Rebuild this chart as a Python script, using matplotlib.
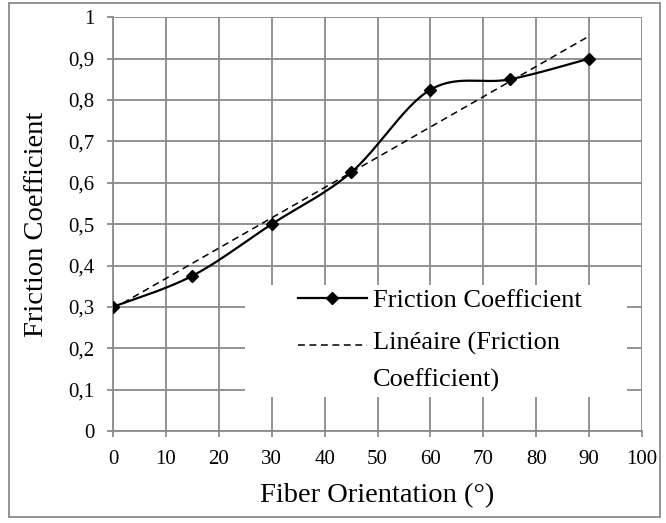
import numpy as np
import matplotlib
matplotlib.use("Agg")
import matplotlib.pyplot as plt
from matplotlib.patches import Rectangle
from matplotlib.lines import Line2D
from matplotlib.legend_handler import HandlerLine2D

plt.rcParams['font.family'] = ['Liberation Serif', 'DejaVu Serif']

orientation = [0, 15, 30, 45, 60, 75, 90]
friction = [0.3, 0.375, 0.5, 0.625, 0.825, 0.85, 0.9]
x_ticks = [0, 10, 20, 30, 40, 50, 60, 70, 80, 90, 100]
y_ticks = [0, 0.1, 0.2, 0.3, 0.4, 0.5, 0.6, 0.7, 0.8, 0.9, 1.0]
y_labels = ['0', '0,1', '0,2', '0,3', '0,4', '0,5', '0,6', '0,7', '0,8', '0,9', '1']


def smooth_curve(xs, ys, n=40):
    """Bezier smoothing of a polyline (control points from neighbouring slopes)."""
    P = np.column_stack([xs, ys]).astype(float)
    out = []
    for i in range(len(P) - 1):
        p0 = P[i - 1] if i > 0 else P[i]
        p1 = P[i]
        p2 = P[i + 1]
        p3 = P[i + 2] if i + 2 < len(P) else P[i + 1]
        c1 = p1 + (p2 - p0) / 6.0
        c2 = p2 - (p3 - p1) / 6.0
        t = np.linspace(0, 1, n)[:, None]
        seg = ((1 - t) ** 3) * p1 + 3 * ((1 - t) ** 2) * t * c1 + 3 * (1 - t) * t ** 2 * c2 + t ** 3 * p2
        out.append(seg if i == 0 else seg[1:])
    s = np.vstack(out)
    return s[:, 0], s[:, 1]


class HandlerFirstLine(HandlerLine2D):
    """Line handle raised to sit beside the first line of a two-line label."""

    def __init__(self, dy, **kw):
        super().__init__(**kw)
        self.dy = dy

    def create_artists(self, legend, orig_handle, xdescent, ydescent, width,
                       height, fontsize, trans):
        artists = super().create_artists(legend, orig_handle, xdescent, ydescent,
                                         width, height, fontsize, trans)
        for a in artists:
            a.set_ydata(np.asarray(a.get_ydata()) + self.dy)
        return artists


W, H = 666, 523
fig = plt.figure(figsize=(W / 100, H / 100), dpi=100)
ax_l, ax_r, ax_t, ax_b = 113, 642, 17.3, 431
ax = fig.add_axes([ax_l / W, 1 - ax_b / H, (ax_r - ax_l) / W, (ax_b - ax_t) / H])


def px_to_axes(px, py):
    """Figure pixel position (from top-left) to axes fraction."""
    return (px - ax_l) / (ax_r - ax_l), 1 - (py - ax_t) / (ax_b - ax_t)


grid_col = '#8a8a8a'
ax.set_xlim(0, 100)
ax.set_ylim(0, 1)
ax.set_xticks(x_ticks)
ax.set_yticks(y_ticks)
ax.set_xticklabels([str(v) for v in x_ticks])
ax.set_yticklabels(y_labels)
ax.grid(True, color=grid_col, linewidth=1.3)
ax.set_axisbelow(True)
for side in ['top', 'right']:
    ax.spines[side].set_visible(False)
for side in ['left', 'bottom']:
    ax.spines[side].set_color(grid_col)
    ax.spines[side].set_linewidth(1.3)
ax.tick_params(axis='both', direction='out', length=4.5, width=1.3, color=grid_col,
               labelsize=15)
ax.tick_params(axis='x', pad=9)
ax.tick_params(axis='y', pad=9)

dash = (0, (4.5, 3.0))

# data series, smoothed
sx, sy = smooth_curve(orientation, friction)
ax.plot(sx, sy, color='black', linewidth=1.6, zorder=4)
ax.plot(orientation, friction, linestyle='none', marker='D', markersize=6.5,
        color='black', zorder=5)

# linear trend line
slope, intercept = np.polyfit(orientation, friction, 1)
tx = np.array([orientation[0], orientation[-1]])
ax.plot(tx, slope * tx + intercept, color='black', linewidth=1.1,
        linestyle=dash, zorder=3)

ax.set_xlabel('Fiber Orientation (°)', fontsize=20.5, labelpad=10)
ax.set_ylabel('Friction Coefficient', fontsize=20.5, labelpad=14)

# white legend area hiding the grid
bx0, by0 = px_to_axes(245, 397)
bx1, by1 = px_to_axes(627, 285)
ax.add_patch(Rectangle((bx0, by0), bx1 - bx0, by1 - by0, transform=ax.transAxes,
                       facecolor='white', edgecolor='none', zorder=1))

# legend
series_handle = Line2D([], [], color='black', linewidth=1.6, marker='D', markersize=6.5)
trend_handle = Line2D([], [], color='black', linewidth=1.1, linestyle=dash)
labels = ['Friction Coefficient', 'Linéaire (Friction\nCoefficient)']
leg = ax.legend([series_handle, trend_handle], labels, loc='upper left',
                bbox_to_anchor=px_to_axes(298, 289),
                handler_map={trend_handle: HandlerFirstLine(12)},
                frameon=False, fontsize=19, handlelength=2.6,
                handletextpad=0.25, labelspacing=0.75, borderpad=0.0,
                borderaxespad=0)
leg.get_texts()[1].set_linespacing(1.75)

# outer chart border
fig.patches.append(Rectangle((9 / W, 1 - 517 / H), (660 - 9) / W, (517 - 3) / H,
                             transform=fig.transFigure, fill=False,
                             edgecolor=grid_col, linewidth=1.3))

fig.savefig('out.png', dpi=100)
